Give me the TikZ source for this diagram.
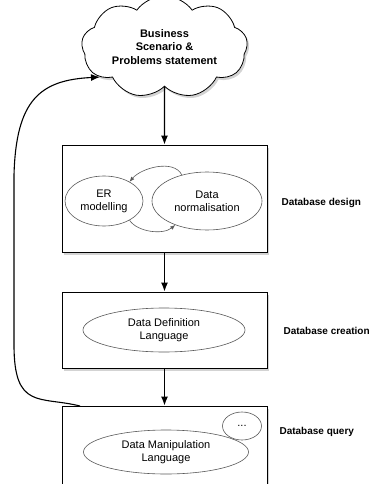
\documentclass[tikz,border=0pt]{standalone}
\usepackage{fontspec}
\setmainfont{Liberation Sans}
\usetikzlibrary{shapes.symbols,shapes.geometric,shadows,arrows.meta}

\begin{document}
\begin{tikzpicture}[x=1pt,y=-1pt,
  softshadow/.style={drop shadow={opacity=0.35,shadow xshift=2pt,shadow yshift=-2.5pt}},
  stagebox/.style={draw,line width=0.8pt,fill=white,softshadow},
  topic/.style={draw=black!65,ellipse,line width=0.6pt,inner sep=0pt,align=center,font=\fontsize{11}{13}\selectfont},
  flow/.style={line width=1.4pt,-{Latex[length=9pt,width=7pt]}},
  swap/.style={draw=black!65,line width=0.6pt,-{Latex[length=5pt,width=4pt]}},
  stage/.style={anchor=west,font=\fontsize{10}{12}\selectfont\bfseries}]
\useasboundingbox (0,0) rectangle (383,484);
\clip (0,0) rectangle (383,484);

\node[cloud,cloud puffs=9,cloud puff arc=110,aspect=2,draw,line width=0.8pt,fill=white,softshadow,
  minimum width=166pt,minimum height=86pt,align=center,
  font=\fontsize{11}{13.5}\selectfont\bfseries] (scenario) at (164.5,47)
  {Business\\Scenario \&\\Problems statement};

\node[stagebox,minimum width=205pt,minimum height=107pt] (design) at (164.5,198.5) {};
\node[stagebox,minimum width=205pt,minimum height=76pt] (creation) at (164.5,330) {};
\node[stagebox,minimum width=205pt,minimum height=104pt] (query) at (164.5,458) {};

\node[topic,minimum width=78pt,minimum height=50pt] (er) at (104,201) {ER\\modelling};
\node[topic,minimum width=110pt,minimum height=58pt] (norm) at (207,201) {Data\\normalisation};
\node[topic,minimum width=162pt,minimum height=44pt] (ddl) at (164,330) {Data Definition\\Language};
\node[topic,minimum width=165pt,minimum height=44pt] (dml) at (166,452) {Data Manipulation\\Language};
\node[topic,minimum width=39pt,minimum height=28pt] (more) at (242,426) {...};

\node[stage] (designlabel) at (278,203) {Database design};
\node[stage] (creationlabel) at (280,331) {Database creation};
\node[stage] (querylabel) at (276,432) {Database query};

\draw[flow] (scenario.south) -- (design.north);
\draw[flow] (design) -- (creation);
\draw[flow] (creation) -- (query);

\draw[swap] (norm.134) .. controls +(-8,-16) and +(12,-14) .. (er.37);
\draw[swap] (er.-37) .. controls +(8,12) and +(-12,10) .. (norm.-143);

\coordinate (loopstart) at (80,406);
\draw[flow,line width=1.1pt] (loopstart) .. controls (40,396) and (14,410) .. (14,345)
  -- (14,175) .. controls (16,100) and (40,80) .. (scenario.205);
\end{tikzpicture}
\end{document}
